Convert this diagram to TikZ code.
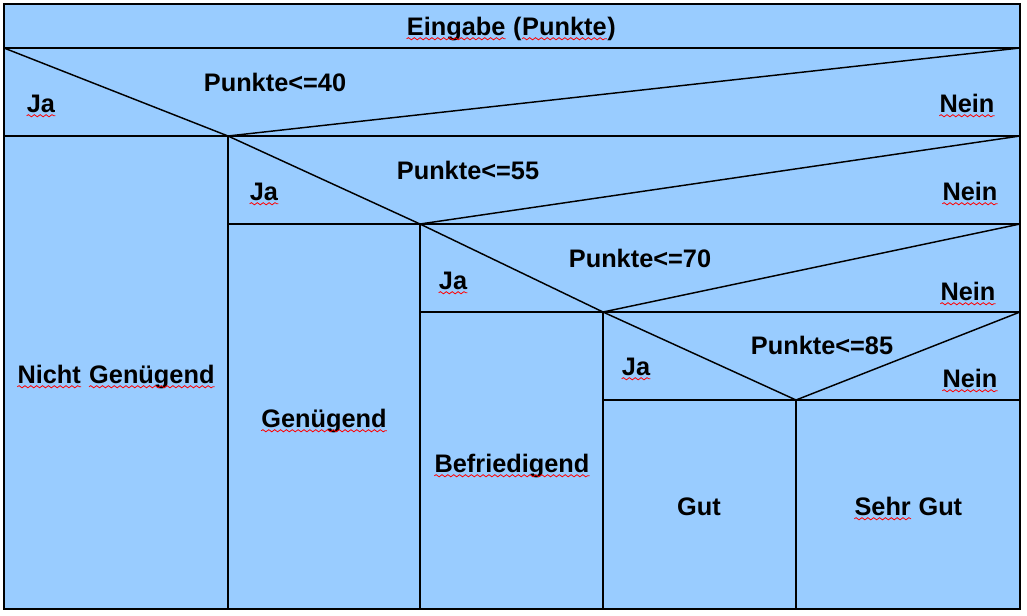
\documentclass[tikz,border=0pt]{standalone}
\usepackage{fontspec}
\setmainfont{Liberation Sans}
\usetikzlibrary{decorations.pathmorphing}
\definecolor{nsblue}{RGB}{153,204,255}
\tikzset{
  lbl/.style={font=\fontsize{19}{23}\selectfont\bfseries,anchor=base,inner sep=0pt},
  nsline/.style={line width=1.1pt,line join=miter}
}
% red wavy underline under a word
\newcommand{\spell}[1]{\tikz[baseline=(w.base)]{\node[inner sep=0pt,anchor=base] (w) {#1};
  \draw[red,line width=0.6pt,decorate,decoration={snake,amplitude=0.8pt,segment length=4.4pt}]
    ([yshift=-2.8pt]w.base west) -- ([yshift=-2.8pt]w.base east);}}
\begin{document}
\begin{tikzpicture}[x=0.75pt,y=-0.75pt]
\useasboundingbox (0,0) rectangle (1027,615);
\fill[white] (0,0) rectangle (1027,615);
\fill[nsblue] (4,4) rectangle (1020,609);

% title
\draw[nsline] (4,48) -- (1020,48);
\node[lbl] (title) at (511,35) {\spell{Eingabe} (\spell{Punkte})};

% nested decisions
\foreach \l/\v/\t in {4/228/48, 228/420/136, 420/603/224, 603/796/312}{
  \draw[nsline] (\l,\t) -- (\v,\t+88) -- (1020,\t);
  \draw[nsline] (\l,\t+88) -- (1020,\t+88);
  \draw[nsline] (\v,\t+88) -- (\v,609);
}
\draw[nsline] (4,4) rectangle (1020,609);

\node[lbl] (c40) at (275,91) {Punkte<=40};
\node[lbl] (ja40) at (41,112) {\spell{Ja}};
\node[lbl] (nein40) at (967,112) {\spell{Nein}};

\node[lbl] (c55) at (468,179) {Punkte<=55};
\node[lbl] (ja55) at (264,200) {\spell{Ja}};
\node[lbl] (nein55) at (970,200) {\spell{Nein}};

\node[lbl] (c70) at (640,267) {Punkte<=70};
\node[lbl] (ja70) at (453,289) {\spell{Ja}};
\node[lbl] (nein70) at (968,300) {\spell{Nein}};

\node[lbl] (c85) at (822,354) {Punkte<=85};
\node[lbl] (ja85) at (636,375) {\spell{Ja}};
\node[lbl] (nein85) at (970,387) {\spell{Nein}};

% results
\node[lbl] (ng) at (116,383) {\spell{Nicht} \spell{Genügend}};
\node[lbl] (gen) at (324,427) {\spell{Genügend}};
\node[lbl] (bef) at (512,472) {\spell{Befriedigend}};
\node[lbl] (gut) at (699,515) {Gut};
\node[lbl] (sg) at (908,515) {\spell{Sehr} Gut};

\end{tikzpicture}
\end{document}
